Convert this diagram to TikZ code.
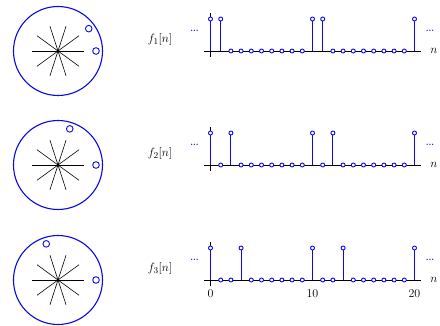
\documentclass[tikz,border=0pt]{standalone}
\definecolor{plotblue}{RGB}{10,10,230}
\begin{document}
\begin{tikzpicture}[x=1pt,y=-1pt,
  ring/.style={draw=plotblue, line width=1.1pt},
  marker/.style={draw=plotblue, line width=0.9pt, fill=white},
  ray/.style={draw=black, line width=0.6pt},
  stem/.style={draw=plotblue, line width=1.05pt},
  stemzero/.style={draw=plotblue, line width=1.6pt},
  axisline/.style={draw=black, line width=0.8pt},
  lbl/.style={text=black, font=\fontsize{12.5}{14}\selectfont, inner sep=0pt},
  dotstyle/.style={text=plotblue, font=\fontsize{8.5}{8.5}\selectfont\bfseries, inner sep=0pt}]
\useasboundingbox (0,0) rectangle (440,326);
\foreach \k/\yy/\zeros in {1/51/{2,3,4,5,6,7,8,9,12,13,14,15,16,17,18,19},
                           2/165/{1,3,4,5,6,7,8,9,11,13,14,15,16,17,18,19},
                           3/280/{1,2,4,5,6,7,8,9,11,12,14,15,16,17,18,19}} {
  \begin{scope}[shift={(0,\yy)}]
    % unit circle with 10 roots of unity
    \draw[ring] (58,0) circle[radius=44.5];
    \foreach \a in {0,36,...,324} \draw[ray] (58,0) -- ++(\a:26);
    \fill[black] (58,0) circle[radius=1.3];
    \draw[marker] (58,0) ++(0:38) circle[radius=3.3];
    \draw[marker] (58,0) ++(-36*\k:38) circle[radius=3.3];
    % axes
    \draw[axisline] (204,0) -- (421,0);
    \draw[axisline] (210.5,-38) -- (210.5,6);
    % stems
    \draw[stemzero] (210.5,0) -- (210.5,-32);
    \foreach \n in {\k,10,10+\k,20} {
      \draw[stem] ({210.5+10.2*(\n)},0) -- ({210.5+10.2*(\n)},-32);
    }
    \foreach \n in {0,\k,10,10+\k,20} {
      \draw[marker] ({210.5+10.2*(\n)},-32) circle[radius=2];
    }
    \foreach \n in \zeros {
      \draw[marker] ({210.5+10.2*\n},0) circle[radius=2];
    }
    \node[lbl] (f\k) at (160,-11) {$f_{\k}[n]$};
    \node[dotstyle] (ld\k) at (194.5,-20) {...};
    \node[dotstyle] (rd\k) at (430,-20) {...};
    \node[lbl] (n\k) at (434,0) {$n$};
  \end{scope}
}
\node[lbl] (t0) at (210.5,294) {$0$};
\node[lbl] (t10) at (312.5,294) {$10$};
\node[lbl] (t20) at (414.5,294) {$20$};
\end{tikzpicture}
\end{document}
